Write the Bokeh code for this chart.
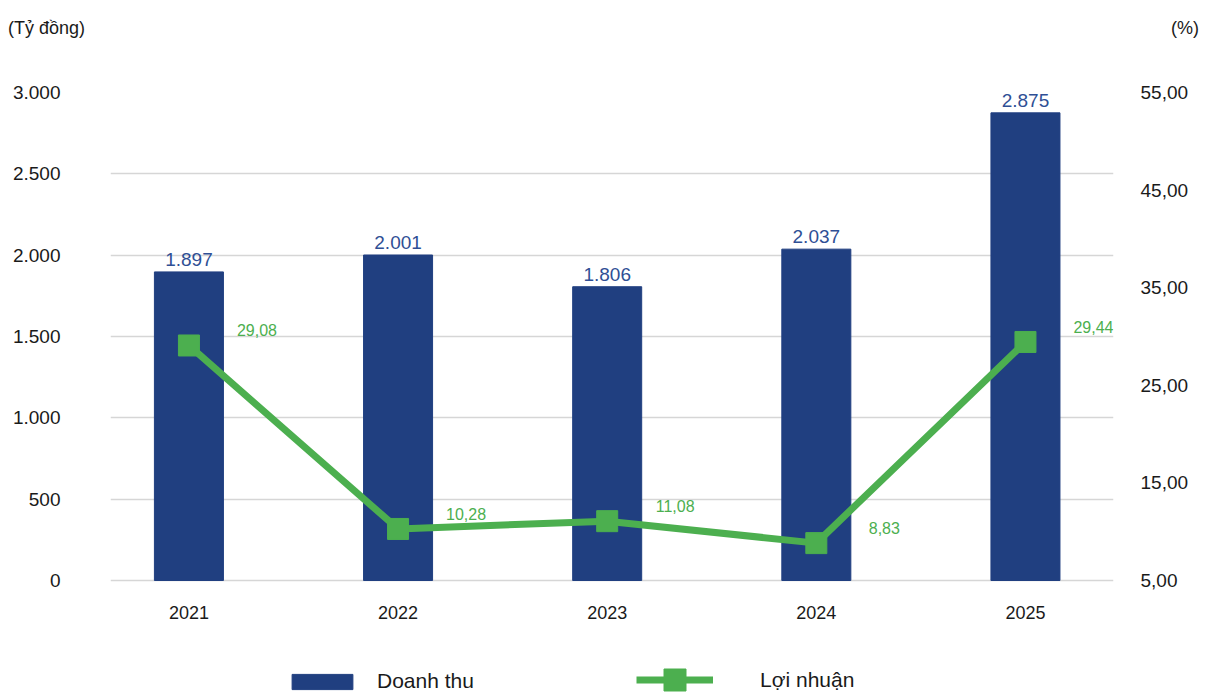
from bokeh.plotting import figure
from bokeh.layouts import column
from bokeh.models import (Range1d, LinearAxis, FixedTicker, ColumnDataSource, Legend,
                          LegendItem, CustomJSTickFormatter, Div)
from bokeh.embed import file_html
from bokeh.resources import INLINE

years = ["2021", "2022", "2023", "2024", "2025"]
revenue = [1897, 2001, 1806, 2037, 2875]
revenue_labels = ["1.897", "2.001", "1.806", "2.037", "2.875"]
profit = [29.08, 10.28, 11.08, 8.83, 29.44]
profit_labels = ["29,08", "10,28", "11,08", "8,83", "29,44"]
left_ticks = [0, 500, 1000, 1500, 2000, 2500, 3000]
left_tick_labels = ["0", "500", "1.000", "1.500", "2.000", "2.500", "3.000"]
right_ticks = [5, 15, 25, 35, 45, 55]
right_tick_labels = ["5,00", "15,00", "25,00", "35,00", "45,00", "55,00"]
left_unit = "(Tỷ đồng)"
right_unit = "(%)"

BAR = "#203f80"
BAR_TXT = "#2f4f95"
GREEN = "#4caf4f"
FONT = "Liberation Sans"
TXT = "#1a1a1a"

W, H = 1205, 695
HEAD_H = 50
PLOT_TOP, PLOT_BOTTOM = 92, 580          # pixel rows of the top and zero gridlines
# the frame reaches down to the bottom of the page so that the year labels and the
# legend (drawn below the zero line) are not clipped
extra = (H - PLOT_BOTTOM) / (PLOT_BOTTOM - PLOT_TOP)
L_MIN, L_MAX = left_ticks[0], left_ticks[-1]
R_MIN, R_MAX = right_ticks[0], right_ticks[-1]

xs = list(range(len(years)))
src = ColumnDataSource(dict(x=xs, rev=revenue, rev_lbl=revenue_labels,
                            prof=profit, prof_lbl=profit_labels,
                            zero=[L_MIN] * len(years), year=years))

header = Div(text=(f'<div style="position:relative;width:{W}px;height:{HEAD_H}px;'
                   f'font-family:\'{FONT}\';font-size:18px;color:{TXT};">'
                   f'<span style="position:absolute;left:8px;top:16px;">{left_unit}</span>'
                   f'<span style="position:absolute;right:6px;top:16px;">{right_unit}</span></div>'),
             width=W, height=HEAD_H, margin=0)

p = figure(width=W, height=H - HEAD_H, output_backend="svg", toolbar_location=None,
           x_axis_location=None,
           x_range=Range1d(-0.375, 4.421),
           y_range=Range1d(L_MIN - (L_MAX - L_MIN) * extra, L_MAX),
           min_border_left=110, min_border_right=92, min_border_top=PLOT_TOP - HEAD_H,
           min_border_bottom=0, margin=0)
p.extra_y_ranges = {"right": Range1d(R_MIN - (R_MAX - R_MIN) * extra, R_MAX)}
p.outline_line_color = None
p.background_fill_color = "white"
p.border_fill_color = "white"

def fmt(tick_values, labels):
    return CustomJSTickFormatter(args=dict(tv=tick_values, lb=labels),
                                 code="const i = tv.indexOf(tick); return i >= 0 ? lb[i] : '';")

def style_axis(ax, standoff, size):
    ax.axis_line_color = None
    ax.major_tick_line_color = None
    ax.minor_tick_line_color = None
    ax.major_label_standoff = standoff
    ax.major_label_text_font = FONT
    ax.major_label_text_font_size = size
    ax.major_label_text_color = TXT

ya = p.yaxis[0]
ya.ticker = FixedTicker(ticks=left_ticks)
ya.formatter = fmt(left_ticks, left_tick_labels)
style_axis(ya, 44, "19px")

ra = LinearAxis(y_range_name="right", ticker=FixedTicker(ticks=right_ticks),
                formatter=fmt(right_ticks, right_tick_labels))
style_axis(ra, 21, "19px")
p.add_layout(ra, "right")

p.xgrid.grid_line_color = None
p.ygrid.grid_line_color = "#d6d6d6"
p.ygrid.grid_line_width = 1.5
p.ygrid.ticker = FixedTicker(ticks=left_ticks)

bars = p.vbar(x="x", top="rev", width=0.33, source=src, fill_color=BAR, line_color=BAR)
p.text(x="x", y="rev", text="rev_lbl", source=src, text_align="center",
       text_baseline="bottom", y_offset=-6, text_color=BAR_TXT,
       text_font_size="19px", text_font={"value": FONT})

# category labels under the zero line
p.text(x="x", y="zero", text="year", source=src, text_align="center",
       text_baseline="middle", y_offset=32, text_color=TXT,
       text_font_size="18px", text_font={"value": FONT})

line = p.line(x="x", y="prof", source=src, y_range_name="right", line_color=GREEN, line_width=7)
marks = p.scatter(x="x", y="prof", source=src, y_range_name="right", marker="square",
                  size=21, fill_color=GREEN, line_color=GREEN)
p.text(x="x", y="prof", text="prof_lbl", source=src, y_range_name="right",
       text_align="center", text_baseline="middle", x_offset=68, y_offset=-15,
       text_color=GREEN, text_font_size="16px", text_font={"value": FONT})

leg1 = Legend(items=[LegendItem(label="Doanh thu", renderers=[bars])],
              location=(174, 2), orientation="horizontal", margin=0,
              glyph_width=76, glyph_height=19, label_standoff=17, padding=0,
              border_line_color=None, background_fill_alpha=0,
              label_text_font=FONT, label_text_font_size="21px", label_text_color=TXT)
leg2 = Legend(items=[LegendItem(label="Lợi nhuận", renderers=[line, marks])],
              location=(526, -12), orientation="horizontal", margin=0,
              glyph_width=77, glyph_height=55, label_standoff=47, padding=0,
              border_line_color=None, background_fill_alpha=0,
              label_text_font=FONT, label_text_font_size="21px", label_text_color=TXT)
p.add_layout(leg1, "center")
p.add_layout(leg2, "center")

layout = column(header, p, spacing=0, margin=0)
open("out.html", "w").write(file_html(layout, INLINE))
